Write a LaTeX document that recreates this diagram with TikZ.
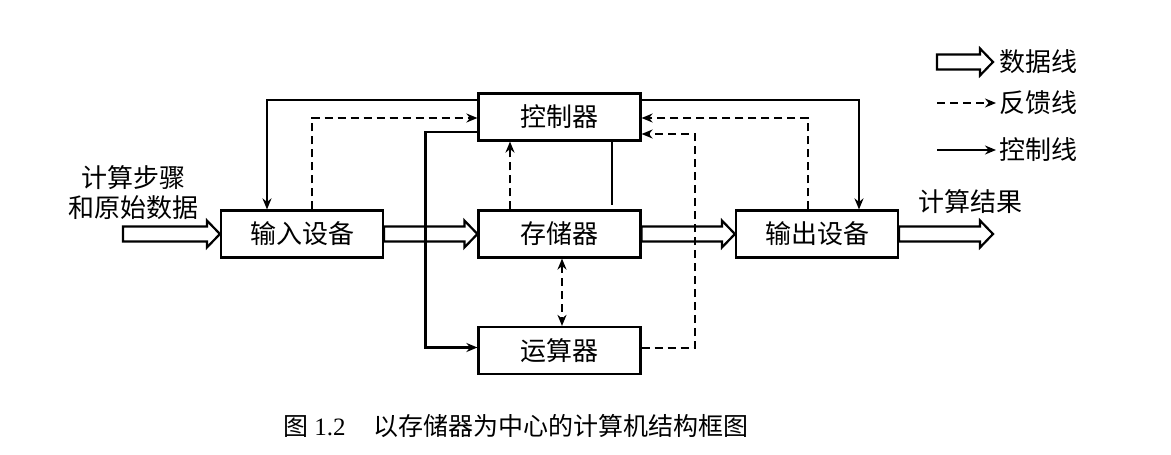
\documentclass[tikz,border=0pt]{standalone}
\usepackage{fontspec}
\setmainfont{Liberation Serif}
\newfontfamily\cjk{Noto Sans CJK SC}
\usetikzlibrary{calc,arrows.meta}
\begin{document}
\begin{tikzpicture}[x=1pt,y=-1pt,
  box/.style={draw,line width=2.2pt,minimum width=162pt,minimum height=47pt,inner sep=0pt,font=\cjk\fontsize{26}{30}\selectfont},
  lbl/.style={font=\cjk\fontsize{26}{30}\selectfont,inner sep=0pt},
  ctl/.style={line width=2.2pt,-{Stealth[length=11pt,width=9pt]}},
  plain/.style={line width=2.2pt},
  fb/.style={ctl,dash pattern=on 8pt off 5pt},
  fbboth/.style={line width=2.2pt,dash pattern=on 8pt off 5pt,{Stealth[length=11pt,width=9pt]}-{Stealth[length=11pt,width=9pt]}},
  data/.style={line width=2.2pt,line join=miter,to path={($(\tikztostart)+(0,-7.5)$) -- ($(\tikztotarget)+(-13,-7.5)$) -- ($(\tikztotarget)+(-13,-13.5)$) -- (\tikztotarget) -- ($(\tikztotarget)+(-13,13.5)$) -- ($(\tikztotarget)+(-13,7.5)$) -- ($(\tikztostart)+(0,7.5)$) -- cycle}}
]
\useasboundingbox (0,0) rectangle (1171,455);
\fill[white] (0,0) rectangle (1171,455);

% boxes
\node[box] (ctrl) at (559.5,117) {控制器};
\node[box] (mem) at (559.5,234) {存储器};
\node[box] (alu) at (559.5,350.5) {运算器};
\node[box] (in) at (302,234) {输入设备};
\node[box] (out) at (817,234) {输出设备};

% free ends
\coordinate (src) at (123,234);
\coordinate (dst) at (993,234);

% data lines
\draw[data] (src) to (in.west);
\draw[data] (in.east) to (mem.west);
\draw[data] (mem.east) to (out.west);
\draw[data] (out.east) to (dst);

% control lines
\draw[ctl] ($(ctrl.west)+(0,-17)$) -| ($(in.north)+(-35,0)$);
\draw[ctl] ($(ctrl.east)+(0,-17)$) -| ($(out.north)+(42,0)$);
\draw[ctl] ($(ctrl.west)+(0,15)$) -| ($(alu.west)+(-52,-3)$) -- ($(alu.west)+(0,-3)$);
\draw[plain] ($(ctrl.south)+(52.5,0)$) -- ($(mem.north)+(52.5,-4)$);

% feedback lines
\draw[fb] ($(in.north)+(10,0)$) |- ($(ctrl.west)+(0,1)$);
\draw[fb] ($(mem.north)+(-49.5,0)$) -- ($(ctrl.south)+(-49.5,0)$);
\draw[fbboth] ($(mem.south)+(2.5,0)$) -- ($(alu.north)+(2.5,0)$);
\draw[fb] ($(alu.east)+(0,-2.5)$) -| ($(ctrl.east)+(53,17)$) -- ($(ctrl.east)+(0,17)$);
\draw[fb] ($(out.north)+(-9,0)$) |- ($(ctrl.east)+(0,1)$);

% labels
\node[lbl,align=center] (steps) at (133,193) {计算步骤\\和原始数据};
\node[lbl] (res) at (970,202) {计算结果};

% legend
\coordinate (l1a) at (937,62);
\coordinate (l1b) at (993,62);
\coordinate (l2a) at (937,103);
\coordinate (l2b) at (996,103);
\coordinate (l3a) at (937,150);
\coordinate (l3b) at (996,150);
\draw[data] (l1a) to (l1b);
\draw[fb] (l2a) -- (l2b);
\draw[ctl] (l3a) -- (l3b);
\node[lbl,anchor=west] (t1) at (999,62) {数据线};
\node[lbl,anchor=west] (t2) at (999,103) {反馈线};
\node[lbl,anchor=west] (t3) at (999,150) {控制线};

% caption
\node[anchor=west,inner sep=0pt,font=\fontsize{25}{28}\selectfont] (cap) at (283,426) {{\cjk 图} 1.2\hspace{28pt}{\cjk 以存储器为中心的计算机结构框图}};
\end{tikzpicture}
\end{document}
